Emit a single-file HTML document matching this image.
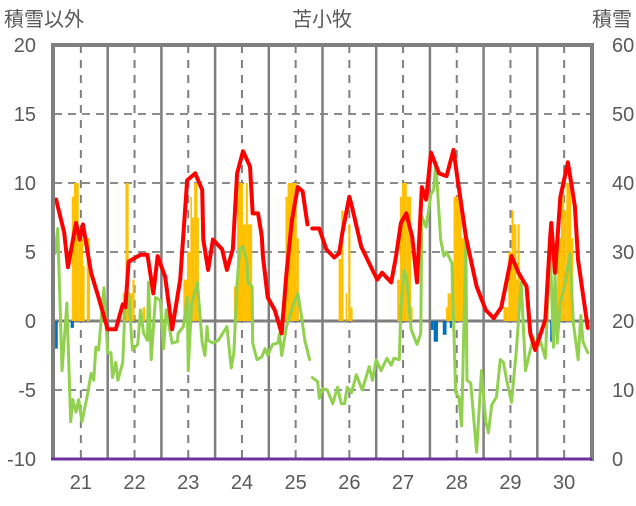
<!DOCTYPE html>
<html><head><meta charset="utf-8">
<style>
html,body{margin:0;padding:0;background:#fff;}
svg text{font-family:"Liberation Sans","Noto Sans CJK JP",sans-serif;fill:#595959;}
</style></head>
<body>
<svg id="chart" width="636" height="501" viewBox="0 0 636 501" xmlns="http://www.w3.org/2000/svg">
<text x="4" y="26" font-size="20">積雪以外</text>
<text x="322" y="26" font-size="20" text-anchor="middle">苫小牧</text>
<text x="632" y="26" font-size="20" text-anchor="end">積雪</text>
<g id="grid"></g>
<g id="bars"></g>
<g id="lines"></g>
<g id="frame"></g>
<g id="ticks"></g>
</svg>
<script>
const leftTicks=[20,15,10,5,0,-5,-10];
const rightTicks=[60,50,40,30,20,10,0];
const dayLabels=[21,22,23,24,25,26,27,28,29,30];
const redDays=[20.54,20.69,20.76,20.91,20.98,21.04,21.19,21.33,21.50,21.65,21.78,21.83,21.89,22.11,22.24,22.35,22.43,22.57,22.70,22.85,22.98,23.13,23.26,23.28,23.37,23.46,23.63,23.72,23.83,23.91,24.02,24.15,24.20,24.30,24.37,24.39,24.48,24.61,24.74,24.83,24.93,25.04,25.13,25.22];
const redVals=[8.8,6.4,3.9,7.1,5.9,7.0,3.5,1.7,-0.6,-0.6,1.2,1.0,4.3,4.8,4.8,2.0,4.7,3.2,-0.6,3.0,10.2,10.7,9.5,5.9,3.7,5.9,5.2,3.7,5.2,10.7,12.3,11.2,7.8,7.8,6.1,4.7,1.7,0.8,-0.9,3.5,7.3,9.7,9.4,7.0];
const redDays2=[25.31,25.44,25.57,25.72,25.81,25.87,26.00,26.06,26.22,26.43,26.52,26.61,26.78,26.87,26.96,27.06,27.17,27.26,27.35,27.43,27.52,27.67,27.81,27.94,28.00,28.17,28.37,28.54,28.69,28.83,29.02,29.15,29.30,29.37,29.46,29.65,29.74,29.76,29.83,29.93,30.07,30.20,30.26,30.44];
const redVals2=[6.7,6.7,5.2,4.6,4.9,6.4,9.0,8.1,5.4,3.7,3.0,3.5,2.8,4.7,7.1,7.8,6.1,2.8,9.7,8.8,12.2,10.7,10.5,12.4,10.7,6.1,2.5,0.8,0.2,1.0,4.7,3.5,2.5,-0.9,-2.1,0.1,6.1,7.1,3.5,9.0,11.5,8.3,4.4,-0.5];
const greenDays=[20.52,20.57,20.65,20.74,20.81,20.85,20.91,20.96,21.02,21.13,21.19,21.24,21.28,21.33,21.43,21.50,21.56,21.59,21.65,21.69,21.78,21.83,21.89,21.96,22.06,22.11,22.17,22.24,22.26,22.31,22.39,22.48,22.54,22.59,22.70,22.80,22.81,22.91,22.98,23.00,23.06,23.17,23.26,23.31,23.35,23.37,23.46,23.56,23.72,23.80,23.85,23.91,23.96,24.02,24.09,24.11,24.19,24.20,24.28,24.37,24.43,24.48,24.57,24.67,24.70,24.74,24.83,24.94,25.04,25.11,25.17,25.26];
const greenVals=[4.9,6.7,-3.6,1.3,-7.3,-5.7,-6.6,-5.7,-7.3,-5.2,-3.8,-4.3,-1.9,-2.1,2.4,-2.3,-2.3,-4.1,-3.0,-4.3,-3.0,1.7,2.0,-2.1,-1.7,0.8,-0.9,-1.4,2.8,-2.8,1.7,1.5,-2.0,0.8,-1.6,-1.5,-0.9,-0.4,1.7,-3.6,1.2,2.8,-1.6,-2.5,-0.4,-1.4,-1.6,-1.4,-0.4,-3.4,-2.3,2.8,5.2,5.4,4.4,2.8,2.5,-1.6,-2.8,-2.6,-2.0,-2.5,-1.7,-1.6,-0.9,-2.5,-0.4,1.0,2.0,0.3,-1.4,-2.8];
const greenDays2=[25.31,25.41,25.44,25.50,25.59,25.69,25.78,25.85,25.91,25.96,26.04,26.13,26.24,26.37,26.43,26.50,26.59,26.70,26.78,26.83,26.93,26.96,27.02,27.07,27.15,27.26,27.33,27.35,27.43,27.52,27.57,27.61,27.70,27.76,27.81,27.91,27.98,28.04,28.09,28.17,28.19,28.26,28.37,28.46,28.54,28.59,28.65,28.74,28.81,28.87,28.93,29.02,29.11,29.20,29.28,29.37,29.43,29.48,29.56,29.65,29.74,29.80,29.83,29.87,29.93,30.02,30.11,30.17,30.26,30.31,30.35,30.44];
const greenVals2=[-4.1,-4.4,-5.6,-4.9,-5.0,-6.0,-4.8,-6.0,-6.0,-4.8,-5.2,-3.9,-5.0,-3.3,-4.3,-2.8,-3.6,-2.7,-3.2,-2.7,-2.8,1.0,3.7,3.0,-0.6,-1.7,-0.9,7.6,6.8,9.2,9.5,11.5,5.9,4.7,5.0,4.2,-5.2,-5.5,-7.6,5.7,-4.3,-4.5,-9.5,-3.6,-7.3,-8.1,-6.1,-5.5,-2.8,-3.0,-4.3,-5.9,-2.1,2.8,-3.6,-2.1,-1.2,-2.0,-1.5,-2.7,5.4,-1.9,3.5,-1.6,1.3,2.8,4.9,-0.1,-2.8,0.4,-1.5,-2.3];
const barStart=[20.52,20.81,20.83,20.87,20.96,21.04,21.11,21.78,21.83,21.89,21.96,22.15,22.91,22.98,23.04,23.07,23.11,23.17,23.85,23.91,23.93,24.02,24.07,24.11,24.81,24.85,25.02,25.80,25.85,25.93,25.98,26.02,26.89,26.94,26.98,27.07,27.15,27.52,27.57,27.74,27.87,27.80,27.83,27.89,27.94,27.98,28.09,28.87,28.96,29.02,29.06,29.11,29.13,29.74,29.83,29.87,29.94,30.00,30.04,30.13];
const barEnd=[20.57,20.87,20.87,20.96,21.04,21.07,21.17,21.83,21.89,21.96,22.00,22.20,22.98,23.04,23.07,23.11,23.17,23.19,23.91,23.93,24.02,24.07,24.11,24.19,24.85,25.02,25.06,25.85,25.89,25.96,26.02,26.06,26.94,26.98,27.07,27.15,27.17,27.57,27.65,27.81,27.91,27.83,27.89,27.94,27.98,28.09,28.17,28.96,29.02,29.06,29.11,29.13,29.17,29.78,29.87,29.94,30.00,30.04,30.13,30.17];
const barVals=[16,19,38,40,32,28,32,24,40,24,26,22,26,30,38,35,40,35,25,38,40,34,40,34,38,40,32,29,36,24,34,22,26,38,40,38,22,18.7,17,18,19,22,24,26,38,38,32,22,30,36,34,26,34,17,19,32,40,36,40,32];

const X0=54,X1=591,Y20=45,Ym10=459;
const D0=20.5,D1=30.5;
const xS=d=>X0+(d-D0)/(D1-D0)*(X1-X0);
const yL=v=>Y20+(20-v)/30*(Ym10-Y20);
const yR=v=>Y20+(60-v)/60*(Ym10-Y20);
const NS="http://www.w3.org/2000/svg";
function mk(tag,attrs,parent){const e=document.createElementNS(NS,tag);for(const k in attrs)e.setAttribute(k,attrs[k]);parent.appendChild(e);return e;}
const grid=document.getElementById('grid'),bars=document.getElementById('bars'),lines=document.getElementById('lines'),frame=document.getElementById('frame'),ticks=document.getElementById('ticks');

leftTicks.forEach(t=>{
  if(t===20||t===-10)return;
  const y=yL(t);
  const l=mk('line',{x1:X0,x2:X1,y1:y,y2:y,stroke:t===0?'#7f7f7f':'#8c8c8c','stroke-width':t===0?3:2,'stroke-dasharray':t===0?'none':'8,6'},grid);
  
  
});
dayLabels.forEach(d=>{
  const x=xS(d);
  const l=mk('line',{x1:x,x2:x,y1:Y20,y2:Ym10,stroke:'#7f7f7f','stroke-width':2,'stroke-dasharray':'8,7'},grid);
  
  
  if(d<30){const s=mk('line',{x1:xS(d+0.5),x2:xS(d+0.5),y1:Y20,y2:Ym10,stroke:'#7f7f7f','stroke-width':2.5},grid);
  
  }
  const t=mk('text',{x:x,y:489,'font-size':20,'text-anchor':'middle'},ticks);t.textContent=d;
  
  
});
barStart.forEach((s,i)=>{
  const v=barVals[i];const y0=yR(20),y1=yR(v);
  const r=mk('rect',{x:xS(s),y:Math.min(y0,y1),width:Math.max(xS(barEnd[i])-xS(s),1.5),height:Math.abs(y1-y0),fill:v>=20?'#ffc000':'#0070c0'},bars);
  
  
});
function pl(ds,vs,color,name){
  const p=mk('polyline',{points:ds.map((d,i)=>xS(d)+','+yL(vs[i])).join(' '),fill:'none',stroke:color,'stroke-width':color==='#ff0000'?4:3,'stroke-linejoin':'round','stroke-linecap':'round'},lines);
  
  
}
pl(greenDays,greenVals,'#92d050','green-series');
pl(greenDays2,greenVals2,'#92d050','green-series-2');
pl(redDays,redVals,'#ff0000','red-series');
pl(redDays2,redVals2,'#ff0000','red-series-2');

const fr=mk('path',{d:`M${X0-1},${Ym10} V${Y20} H${X1+1} V${Ym10+2}`,fill:'none',stroke:'#7f7f7f','stroke-width':4},frame);


const bl=mk('line',{x1:X0-3,x2:X1+1,y1:Ym10,y2:Ym10,stroke:'#7030a0','stroke-width':3},frame);


leftTicks.forEach(t=>{
  const e=mk('text',{x:36,y:yL(t)+7,'font-size':20,'text-anchor':'end'},ticks);e.textContent=t;
  
  
});
rightTicks.forEach(t=>{
  const e=mk('text',{x:612,y:yR(t)+7,'font-size':20,'text-anchor':'start'},ticks);e.textContent=t;
  
  
});
</script>
</body></html>
